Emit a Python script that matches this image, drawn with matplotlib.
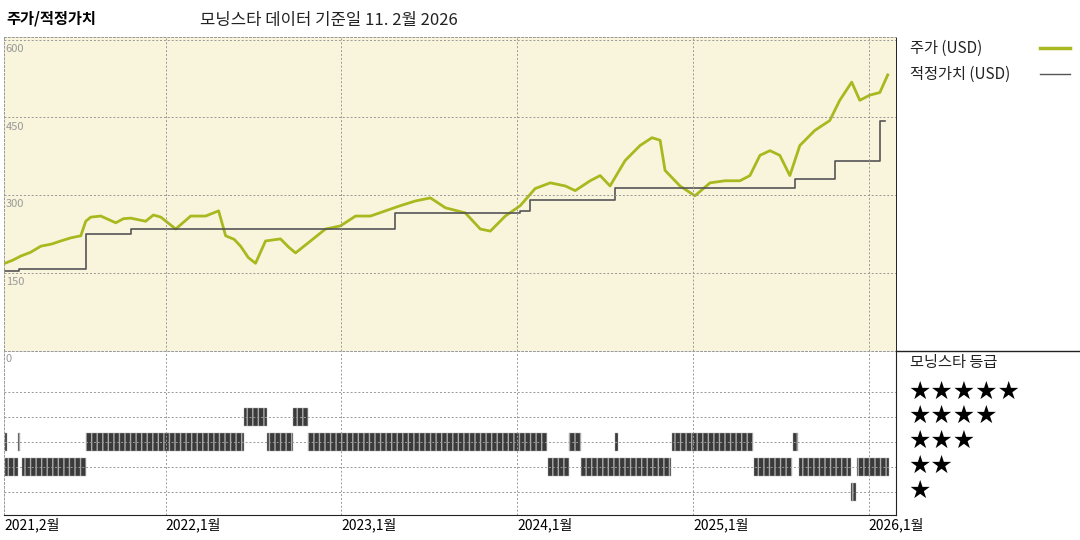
import matplotlib
matplotlib.use("Agg")
import matplotlib.pyplot as plt
from matplotlib.lines import Line2D

plt.rcParams['font.family'] = ['Noto Sans CJK KR', 'DejaVu Sans']

# price (year fraction, USD)
price_x = [2021.085,2021.13,2021.176,2021.23,2021.29,2021.35,2021.403,2021.46,2021.517,2021.545,2021.574,2021.631,2021.716,2021.76,2021.801,2021.886,2021.93,2021.972,2022.057,2022.142,2022.227,2022.301,2022.341,2022.39,2022.426,2022.47,2022.511,2022.568,2022.653,2022.70,2022.739,2022.824,2022.909,2022.994,2023.08,2023.165,2023.25,2023.335,2023.42,2023.506,2023.591,2023.705,2023.79,2023.847,2023.932,2024.017,2024.102,2024.188,2024.273,2024.33,2024.415,2024.472,2024.528,2024.614,2024.699,2024.767,2024.813,2024.841,2024.926,2025.011,2025.097,2025.182,2025.267,2025.324,2025.381,2025.438,2025.494,2025.551,2025.608,2025.693,2025.778,2025.835,2025.903,2025.949,2026.006,2026.063,2026.108]
price_y = [169,175,183,190,202,206,212,218,222,250,258,260,247,255,256,250,262,258,235,260,260,270,222,215,202,180,169,212,216,200,189,212,235,241,260,260,270,280,289,295,276,266,235,231,260,280,313,324,318,309,328,338,318,367,396,411,406,348,318,299,324,328,328,338,377,386,377,338,396,425,444,483,518,483,493,498,532]

# fair value steps
fv_x = [2021.085,2021.165,2021.545,2021.80,2023.307,2024.017,2024.074,2024.557,2025.58,2025.807,2026.063,2026.09]
fv_y = [154,158,226,235,266,270,290,315,332,367,444,444]

# rating segments (start, end, stars)
rating_seg = [(2021.085,2021.097,3),(2021.159,2021.171,3),(2021.085,2021.159,2),(2021.182,2021.545,2),
              (2021.545,2022.443,3),(2022.443,2022.574,4),(2022.574,2022.722,3),(2022.722,2022.807,4),
              (2022.807,2024.17,3),(2024.176,2024.295,2),(2024.295,2024.364,3),(2024.364,2024.875,2),
              (2024.557,2024.574,3),(2024.881,2025.341,3),(2025.347,2025.562,2),(2025.568,2025.597,3),
              (2025.602,2025.898,2),(2025.898,2025.926,1),(2025.932,2026.114,2)]

year_ticks = [2021.085, 2022, 2023, 2024, 2025, 2026]
year_labels = ['2021,2월', '2022,1월', '2023,1월', '2024,1월', '2025,1월', '2026,1월']
price_ticks = [150, 300, 450, 600]

green = '#a9b81e'
bg = '#f8f5dc'
grid = '#999999'
XL = (2021.08, 2026.155)

fig = plt.figure(figsize=(10.8, 5.4), dpi=100)
L, W = 4/1080, 892/1080
ax = fig.add_axes([L, 1-351/540, W, 314/540])
ax.set_facecolor(bg)
ax.plot(price_x, price_y, color=green, lw=2)
ax.step(fv_x, fv_y, where='post', color='#555555', lw=1.2)
ax.set_xlim(*XL); ax.set_ylim(0, 605)
for v in price_ticks:
    ax.axhline(v, color=grid, ls=(0,(2,2)), lw=0.7)
    ax.text(2021.09, v-8, str(v), color='#999', fontsize=8, va='top', ha='left')
for yv in year_ticks[1:]:
    ax.axvline(yv, color=grid, ls=(0,(2,2)), lw=0.7)
ax.set_xticks([]); ax.set_yticks([])
for s in ax.spines.values():
    s.set_color(grid); s.set_linestyle((0,(2,2))); s.set_linewidth(0.7)
ax.spines['right'].set_linestyle('-'); ax.spines['right'].set_color('#222')

bx = fig.add_axes([L, 25/540, W, 164/540])
bx.set_xlim(*XL); bx.set_ylim(0.08, 6.64)
for r in range(1, 6):
    bx.axhline(r, color=grid, ls=(0,(2,2)), lw=0.7)
for yv in year_ticks[1:]:
    bx.axvline(yv, color=grid, ls=(0,(2,2)), lw=0.7)
for s, e, r in rating_seg:
    bx.broken_barh([(s, e-s)], (r-0.36, 0.72), facecolor='#3a3a3a', edgecolor='#aaaaaa',
                   hatch='|||', lw=0.3)
bx.text(2021.09, 6.5, '0', color='#999', fontsize=8, va='top')
bx.set_yticks([])
bx.set_xticks(year_ticks)
bx.set_xticklabels(year_labels, fontsize=10)
bx.tick_params(axis='x', length=0, pad=2)
for lab in bx.get_xticklabels():
    lab.set_horizontalalignment('left')
for s in ['top', 'left']:
    bx.spines[s].set_color(grid); bx.spines[s].set_linestyle((0,(2,2))); bx.spines[s].set_linewidth(0.7)
bx.spines['right'].set_color('#222'); bx.spines['bottom'].set_color('#222')

fig.add_artist(Line2D([896/1080, 1], [1-351/540]*2, color='#222', lw=1))

fig.text(6/1080, 1-18/540, '주가/적정가치', fontsize=11, fontweight='bold', va='center')
fig.text(200/1080, 1-20/540, '모닝스타 데이터 기준일 11. 2월 2026', fontsize=12, va='center', color='#222')
fig.text(910/1080, 1-48/540, '주가 (USD)', fontsize=11, va='center', color='#222')
fig.add_artist(Line2D([1040/1080, 1070/1080], [1-48/540]*2, color=green, lw=2.5))
fig.text(910/1080, 1-74/540, '적정가치 (USD)', fontsize=11, va='center', color='#222')
fig.add_artist(Line2D([1040/1080, 1070/1080], [1-74/540]*2, color='#555', lw=1))
fig.text(910/1080, 1-362/540, '모닝스타 등급', fontsize=11, va='center', color='#222')
for i, yp in enumerate([392, 416, 441, 466, 491]):
    fig.text(908/1080, 1-yp/540, '★'*(5-i), fontsize=18, va='center', color='black',
             family=['DejaVu Sans'])

fig.savefig('out.png', dpi=100)
